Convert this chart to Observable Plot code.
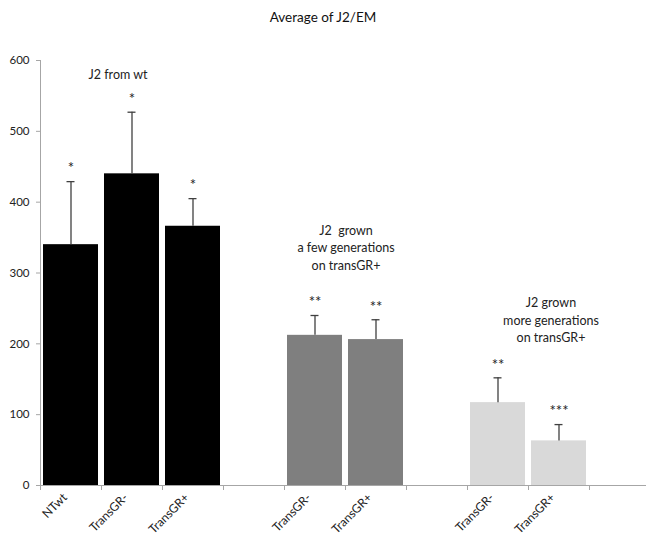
<!DOCTYPE html>
<html><head><meta charset="utf-8">
<script src="https://cdn.jsdelivr.net/npm/d3@7"></script>
<script src="https://cdn.jsdelivr.net/npm/@observablehq/plot@0.6"></script>
<style>
body{margin:0;background:#fff;font-family:Lato,"Open Sans",sans-serif;overflow:hidden}
#title{height:34px;line-height:34px;text-align:center;font-size:13.5px;color:#111}
</style></head><body>
<div id="title">Average of J2/EM</div>
<div id="chart"></div>
<script>
// x slots (10 category positions, three empty spacers)
const slots = ["s0","s1","s2","s3","s4","s5","s6","s7","s8","s9"];
const tickLabels = ["NTwt","TransGR-","TransGR+","","TransGR-","TransGR+","","TransGR-","TransGR+",""];
// bars
const barSlots = ["s0","s1","s2","s4","s5","s7","s8"];
const barGroups = ["wt","wt","wt","few","few","more","more"];
const values = [340, 440, 366, 212, 206, 117, 63];
const errors = [89, 87, 39, 28, 28, 35, 23];
const stars = ["*","*","*","**","**","**","***"];
const groupNames = ["wt","few","more"];
const groupColors = ["#000000","#7f7f7f","#d9d9d9"];
const yTicks = [0,100,200,300,400,500,600];
// group annotations
const noteSlots = ["s1","s5","s8"];
const noteTexts = ["J2 from wt","J2  grown\na few generations\non transGR+","J2 grown\nmore generations\non transGR+"];
const noteY = [582, 337, 235];
const noteDx = [-14, -30, -8];

const data = barSlots.map((s,i)=>({slot:s, group:barGroups[i], value:values[i], err:errors[i], star:stars[i]}));
const notes = noteSlots.map((s,i)=>({slot:s, text:noteTexts[i], y:noteY[i], dx:noteDx[i]}));
const labelOf = Object.fromEntries(slots.map((s,i)=>[s,tickLabels[i]]));
const axisGray = "#a6a6a6";
const errColor = "#404040";

const chart = Plot.plot({
  width: 646,
  height: 504,
  marginTop: 26,
  marginBottom: 53,
  marginLeft: 40,
  marginRight: 0,
  style: {fontFamily: "Lato, 'Open Sans', sans-serif", color: "#222", background: "white"},
  x: {domain: slots, range: [40, 650], paddingInner: 0.1, paddingOuter: 0.05, axis: null, label: null},
  y: {domain: [0, 600], axis: null, label: null},
  color: {domain: groupNames, range: groupColors},
  marks: [
    Plot.barY(data, {x: "slot", y: "value", fill: "group"}),
    Plot.ruleX(data, {x: "slot", y1: "value", y2: d => d.value + d.err, stroke: errColor, strokeWidth: 1.3}),
    Plot.tickY(data, {x: "slot", y: d => d.value + d.err, stroke: errColor, strokeWidth: 1.3, insetLeft: 23.5, insetRight: 23.5}),
    Plot.text(data, {x: "slot", y: d => d.value + d.err, text: "star", dy: -13, fontSize: 15, fill: "#222"}),
    ...notes.map(n => Plot.text([n], {x: "slot", y: "y", text: "text", dx: n.dx, fontSize: 12.5, lineHeight: 1.42, fill: "#222"})),
    // axes
    Plot.ruleX(["s0"], {x: d => d, y1: 0, y2: 600, dx: -30.5, stroke: axisGray}),
    Plot.ruleY([0], {stroke: axisGray}),
    Plot.axisY({ticks: yTicks, tickSize: 4, tickPadding: 7, fontSize: 11.5, stroke: axisGray, fill: "#222", label: null}),
    Plot.axisX({ticks: slots, tickSize: 5, tickFormat: () => "", dx: -30.5, stroke: axisGray, label: null}),
    Plot.axisX({ticks: slots, tickSize: 0, tickPadding: 10, tickRotate: -45, tickFormat: d => labelOf[d], fontSize: 12, fill: "#222", dx: -6, label: null})
  ]
});
document.getElementById("chart").appendChild(chart);
</script>
</body></html>
